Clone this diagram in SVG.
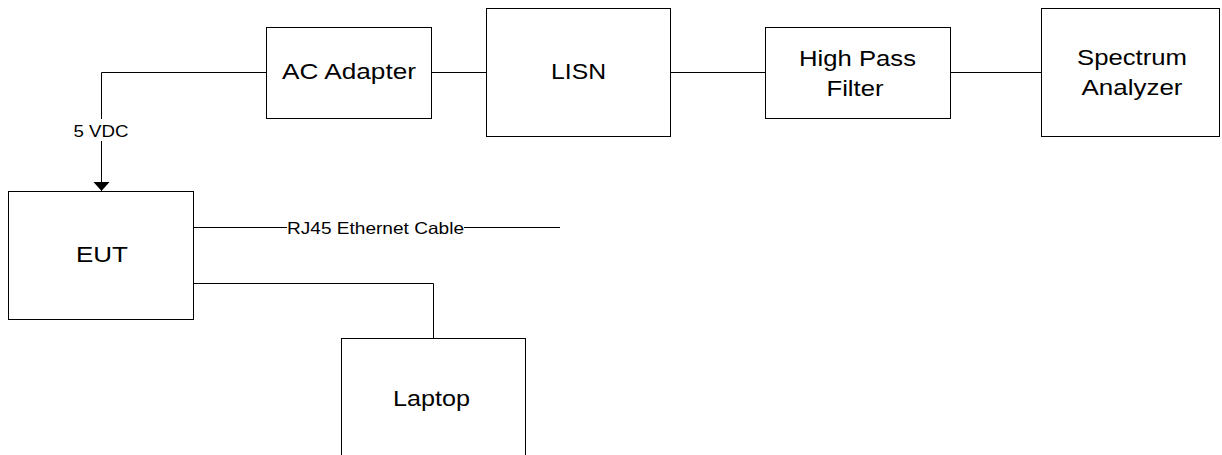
<svg xmlns="http://www.w3.org/2000/svg" width="1222" height="455" viewBox="0 0 1222 455">
<style>
.box{fill:#fff;stroke:#000;stroke-width:1}
.lbl{font-family:"Liberation Sans",Arial,sans-serif;font-size:22.5px;fill:#000;text-anchor:middle}
.sm{font-family:"Liberation Sans",Arial,sans-serif;font-size:16.5px;fill:#000;text-anchor:middle}
.wire{fill:none;stroke:#000;stroke-width:1}
</style>
<defs>
<marker id="arr" markerWidth="18" markerHeight="10" refX="8.5" refY="9" orient="0" markerUnits="userSpaceOnUse">
<path d="M0.5,0 L16.5,0 L8.5,9 Z" fill="#000"/>
</marker>
</defs>
<rect width="1222" height="455" fill="#fff"/>
<g id="connectors">
<path class="wire" d="M266,72.5 H101.5 V191" marker-end="url(#arr)"/>
<path class="wire" d="M431,72.5 H486"/>
<path class="wire" d="M670,72.5 H765"/>
<path class="wire" d="M950,72.5 H1041"/>
<path class="wire" d="M193,227.5 H560"/>
<path class="wire" d="M193,283.5 H433.5 V338"/>
<rect x="70" y="119" width="62" height="22" fill="#fff"/>
<text class="sm" x="101" y="137" textLength="55" lengthAdjust="spacingAndGlyphs">5 VDC</text>
<rect x="287" y="219" width="177" height="17" fill="#fff"/>
<text class="sm" x="375.5" y="233.5" textLength="177" lengthAdjust="spacingAndGlyphs">RJ45 Ethernet Cable</text>
</g>
<g id="ac-adapter">
<rect class="box" x="266.5" y="27.5" width="165" height="91"/>
<text class="lbl" x="349" y="79" textLength="134" lengthAdjust="spacingAndGlyphs">AC Adapter</text>
</g>
<g id="lisn">
<rect class="box" x="486.5" y="8.5" width="184" height="128"/>
<text class="lbl" x="578.5" y="79" textLength="55" lengthAdjust="spacingAndGlyphs">LISN</text>
</g>
<g id="high-pass-filter">
<rect class="box" x="765.5" y="27.5" width="185" height="91"/>
<text class="lbl" x="857.5" y="66" textLength="117" lengthAdjust="spacingAndGlyphs">High Pass</text>
<text class="lbl" x="855" y="96" textLength="57" lengthAdjust="spacingAndGlyphs">Filter</text>
</g>
<g id="spectrum-analyzer">
<rect class="box" x="1041.5" y="8.5" width="178" height="128"/>
<text class="lbl" x="1132" y="65" textLength="110" lengthAdjust="spacingAndGlyphs">Spectrum</text>
<text class="lbl" x="1132" y="95" textLength="101" lengthAdjust="spacingAndGlyphs">Analyzer</text>
</g>
<g id="eut">
<rect class="box" x="8.5" y="191.5" width="185" height="128"/>
<text class="lbl" x="102" y="262" textLength="52" lengthAdjust="spacingAndGlyphs">EUT</text>
</g>
<g id="laptop">
<rect class="box" x="341.5" y="338.5" width="184" height="130"/>
<text class="lbl" x="431.5" y="406" textLength="77" lengthAdjust="spacingAndGlyphs">Laptop</text>
</g>
</svg>
